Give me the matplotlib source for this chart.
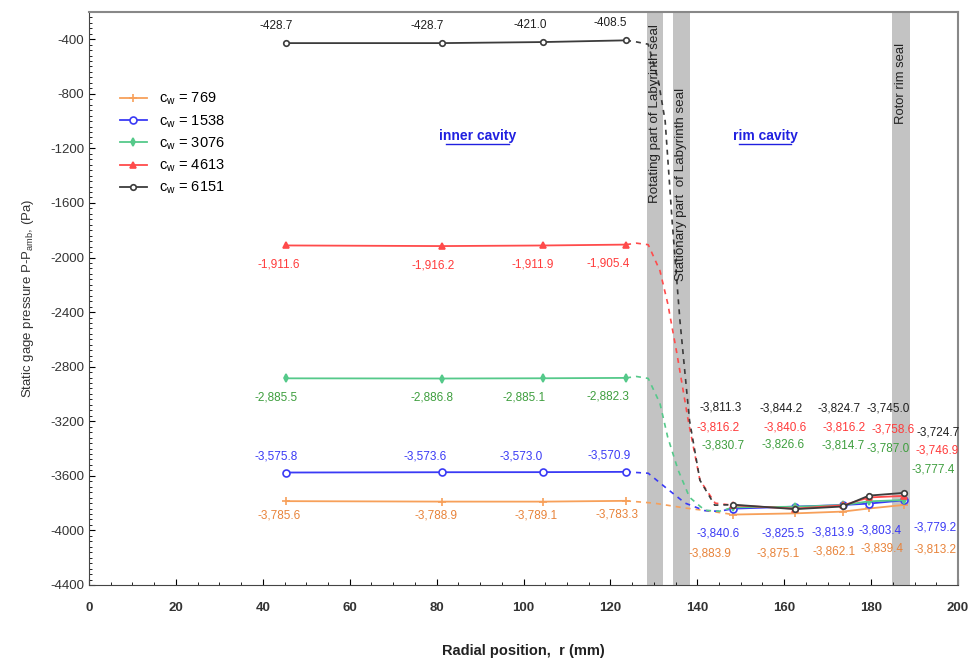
import numpy as np
import matplotlib.pyplot as plt
from matplotlib.ticker import MultipleLocator

plt.rcParams['font.family'] = ['Liberation Sans', 'DejaVu Sans']
plt.rcParams['axes.unicode_minus'] = False
plt.rcParams['mathtext.fontset'] = 'custom'
plt.rcParams['mathtext.rm'] = 'Liberation Sans'
plt.rcParams['mathtext.it'] = 'Liberation Sans:italic'

# measured radii (mm)
r_inner = [45.3, 81.3, 104.5, 123.6]
r_rim = [148.3, 162.5, 173.5, 179.5, 187.6]

cw_labels = ['769', '1538', '3076', '4613', '6151']
p_inner = [
    [-3785.6, -3788.9, -3789.1, -3783.3],
    [-3575.8, -3573.6, -3573.0, -3570.9],
    [-2885.5, -2886.8, -2885.1, -2882.3],
    [-1911.6, -1916.2, -1911.9, -1905.4],
    [-428.7, -428.7, -421.0, -408.5],
]
p_rim = [
    [-3883.9, -3875.1, -3862.1, -3839.4, -3813.2],
    [-3840.6, -3825.5, -3813.9, -3803.4, -3779.2],
    [-3830.7, -3826.6, -3814.7, -3787.0, -3777.4],
    [-3816.2, -3840.6, -3816.2, -3758.6, -3746.9],
    [-3811.3, -3844.2, -3824.7, -3745.0, -3724.7],
]
# dashed transition through the labyrinth seal
link_r = [
    [123.6, 130, 137, 142, 148.3],
    [123.6, 128.7, 132.6, 137.2, 141.7, 145, 148.3],
    [123.6, 126, 128.7, 131.4, 133.2, 135.6, 138.2, 141.7, 145, 148.3],
    [123.6, 126, 128.7, 131.4, 133.2, 135.3, 137.9, 140.6, 144.1, 148.3],
    [123.6, 126, 128.7, 131, 132.6, 134.2, 136, 138.2, 140.6, 144, 148.3],
]
link_p = [
    [-3783.3, -3800, -3835, -3855, -3883.9],
    [-3570.9, -3581, -3683, -3800, -3855, -3860, -3840.6],
    [-2882.3, -2872, -2886, -3069, -3318, -3559, -3757, -3852, -3860, -3830.7],
    [-1905.4, -1895, -1906, -2097, -2338, -2703, -3193, -3632, -3800, -3816.2],
    [-408.5, -420, -437, -700, -1000, -1731, -2462, -3193, -3632, -3815, -3811.3],
]

line_cols = ['#F7A05A', '#3A3AF5', '#55C98A', '#FF4B4B', '#3C3C3C']
text_cols = ['#E8833A', '#3A3AF5', '#3E9E3E', '#FF3A3A', '#202020']
markers = ['+', 'o', 'd', '^', 'o']
msizes = [6, 5, 4, 4, 4]
# label offsets in pixels, up is positive
dy_inner = [-14, 16, -19, -19, 17]
dx_inner = [[-7, -6, -7, -9], [-10, -17, -22, -17], [-10, -10, -19, -18],
            [-7, -9, -10, -18], [-10, -15, -13, -16]]
dy_rim = [[-39, -40, -40, -40, -45], [-25, -27, -27, -27, -27], [62, 62, 60, 53, 31],
          [78, 81, 78, 68, 45], [97, 101, 98, 87, 60]]
dx_rim = [[-23, -17, -9, 13, 31], [-15, -12, -10, 11, 31], [-10, -12, 0, 19, 29],
          [-15, -10, 1, 24, 33], [-13, -14, -4, 19, 34]]

fig = plt.figure(figsize=(9.72, 6.61), dpi=100)
ax = fig.add_axes([0.0916, 0.115, 0.894, 0.867])

# seal bands
for a, b in [(128.4, 132.1), (134.4, 138.3), (184.8, 189.0)]:
    ax.axvspan(a, b, color='#C3C3C3', zorder=0, lw=0)
ax.text(130.25, -290, 'Rotating part of Labyrinth seal', rotation=90, ha='center', va='top',
        fontsize=9.6, color='#222222')
ax.text(136.35, -760, 'Stationary part  of Labyrinth seal', rotation=90, ha='center', va='top',
        fontsize=9.6, color='#222222')
ax.text(186.9, -430, 'Rotor rim seal', rotation=90, ha='center', va='top',
        fontsize=9.4, color='#222222')

for i in range(5):
    c = line_cols[i]
    mfc = 'white' if markers[i] == 'o' else c
    ax.plot(r_inner, p_inner[i], color=c, lw=1.3, marker=markers[i], ms=msizes[i],
            mfc=mfc, mec=c, mew=1.2, label='$\\mathrm{c_w}$ = ' + cw_labels[i], zorder=3)
    ax.plot(r_rim, p_rim[i], color=c, lw=1.3, marker=markers[i], ms=msizes[i],
            mfc=mfc, mec=c, mew=1.2, zorder=3)
    ax.plot(link_r[i], link_p[i], color=c, lw=1.2, ls=(0, (3, 3)), zorder=2)
    for j, (r, p) in enumerate(zip(r_inner, p_inner[i])):
        ax.annotate(f'{p:,.1f}', (r, p), xytext=(dx_inner[i][j], dy_inner[i]),
                    textcoords='offset pixels', ha='center', va='center',
                    fontsize=8.5, color=text_cols[i])
    for j, (r, p) in enumerate(zip(r_rim, p_rim[i])):
        ax.annotate(f'{p:,.1f}', (r, p), xytext=(dx_rim[i][j], dy_rim[i][j]),
                    textcoords='offset pixels', ha='center', va='center',
                    fontsize=8.5, color=text_cols[i])

ax.text(89.4, -1110, 'inner cavity', color='#2020E0', fontsize=10, fontweight='bold',
        ha='center', va='center')
ax.plot([82.2, 96.6], [-1170, -1170], color='#2020E0', lw=1)
ax.text(155.6, -1110, 'rim cavity', color='#2020E0', fontsize=10, fontweight='bold',
        ha='center', va='center')
ax.plot([149.6, 161.6], [-1170, -1170], color='#2020E0', lw=1)

ax.set_xlim(0, 200)
ax.set_ylim(-4400, -200)
ax.xaxis.set_major_locator(MultipleLocator(20))
ax.xaxis.set_minor_locator(MultipleLocator(5))
ax.yaxis.set_minor_locator(MultipleLocator(40))
ax.set_yticks(np.arange(-4400, -399, 400))
ax.tick_params(which='both', direction='in', top=False, right=False)
ax.tick_params(which='major', length=4, labelsize=9.5)
ax.tick_params(which='minor', length=2.5)
ax.tick_params(axis='x', pad=12)
for lab in ax.get_xticklabels():
    lab.set_fontfamily(['Liberation Sans Narrow', 'Liberation Sans'])
    lab.set_fontweight('bold')
    lab.set_color('#333333')
for lab in ax.get_yticklabels():
    lab.set_color('#333333')
for s in ['top', 'right']:
    ax.spines[s].set_color('#888888')
    ax.spines[s].set_linewidth(1.5)
ax.spines['left'].set_color('#444444')
ax.spines['bottom'].set_color('#444444')

ax.set_xlabel('Radial position,  r (mm)', fontsize=10.5, fontweight='bold', labelpad=22,
              family=['Liberation Sans Narrow', 'Liberation Sans'], color='#222222')
ax.set_ylabel('Static gage pressure P-P$_{\\mathrm{amb}}$, (Pa)', fontsize=9.5, color='#333333',
              labelpad=10)

ax.legend(loc='upper left', bbox_to_anchor=(0.02, 0.885), frameon=False, fontsize=10.5,
          handlelength=1.9, labelspacing=0.4)

fig.savefig('out.png', dpi=100)
